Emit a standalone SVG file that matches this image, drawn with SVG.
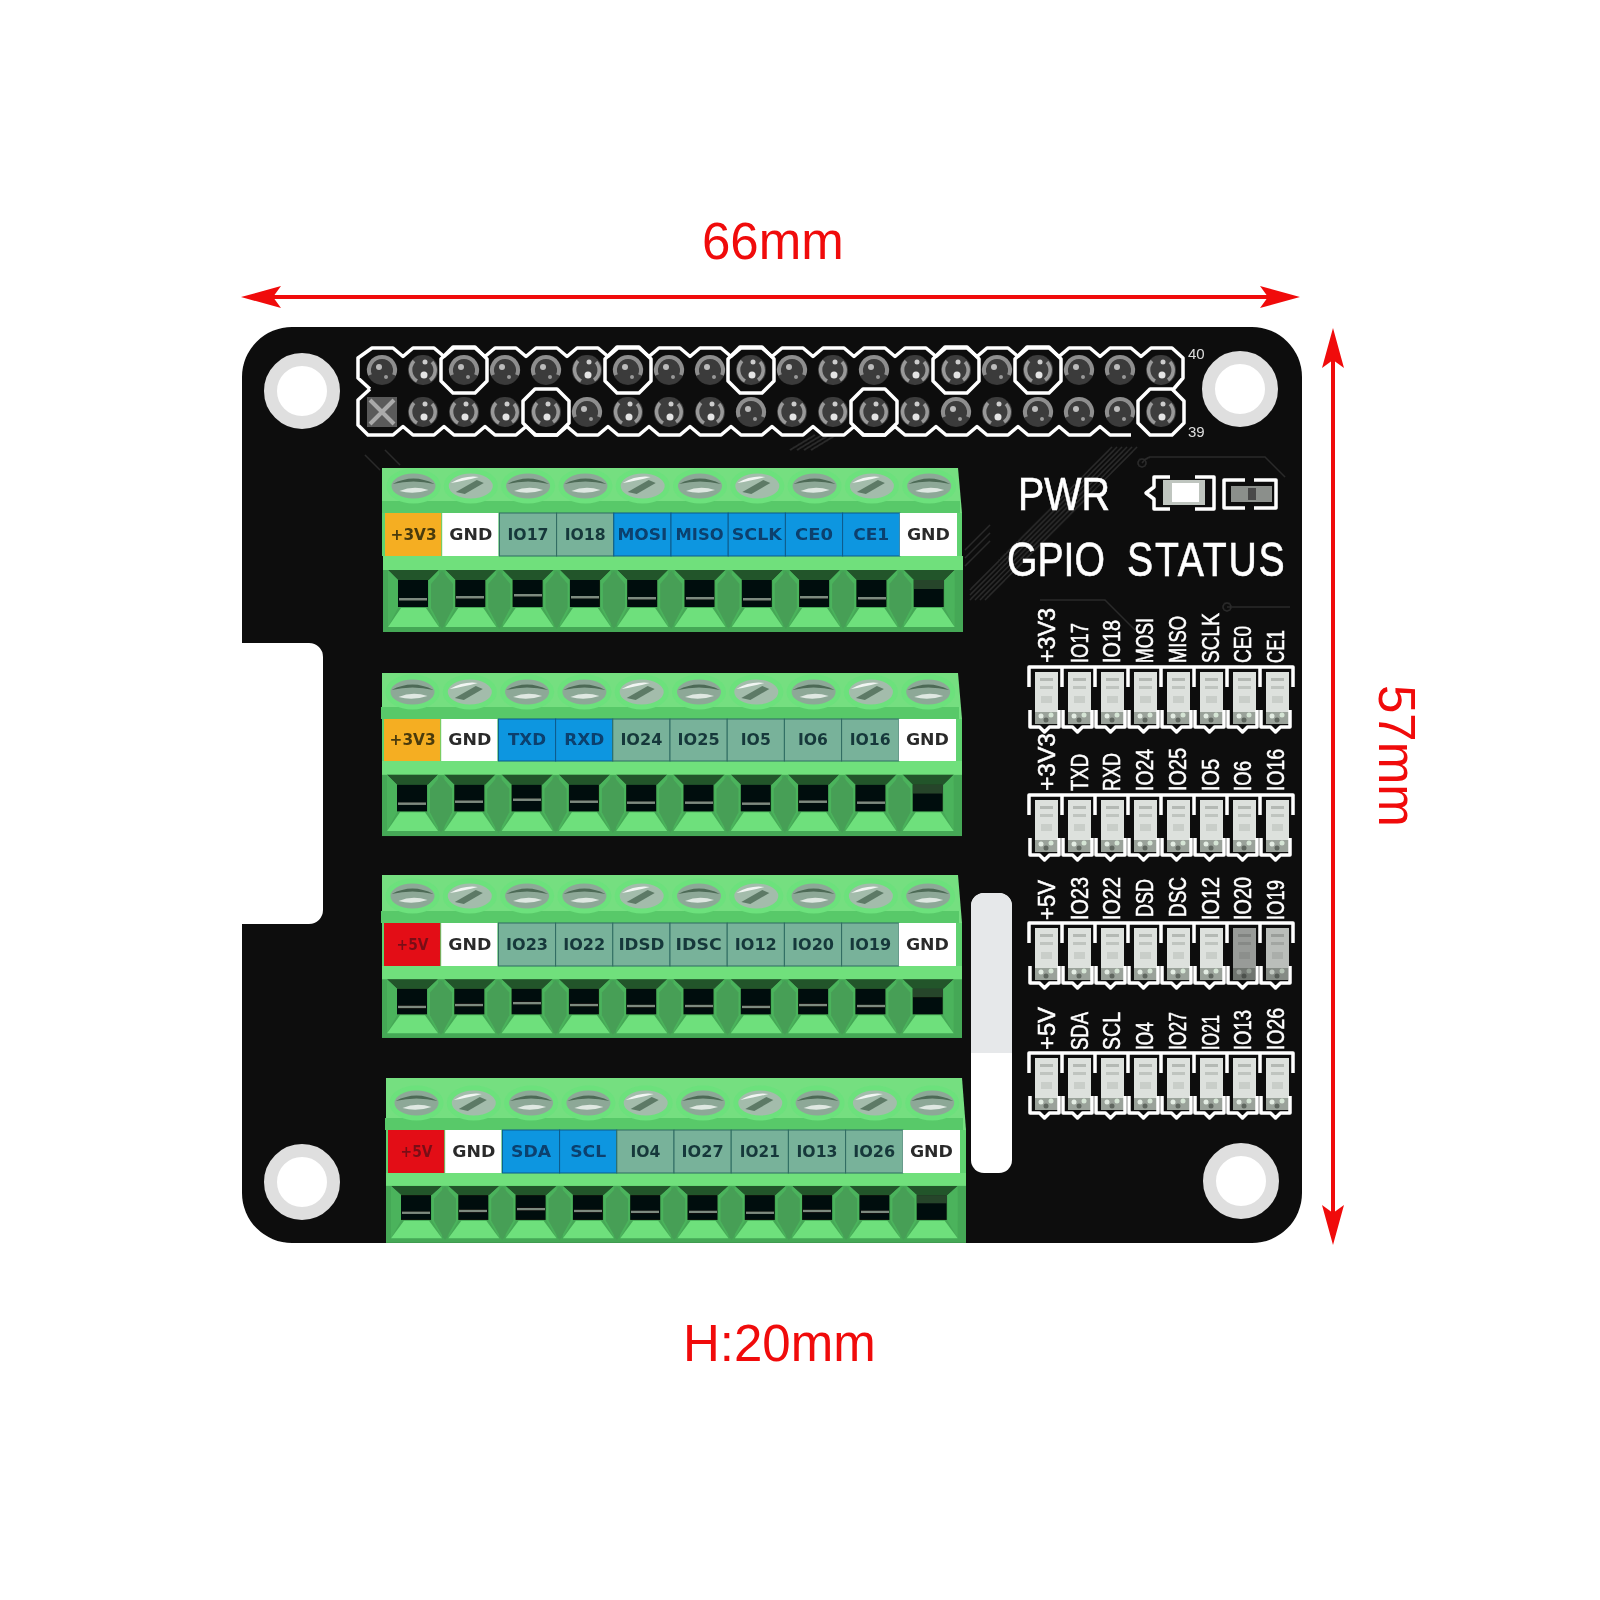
<svg xmlns="http://www.w3.org/2000/svg" xmlns:xlink="http://www.w3.org/1999/xlink" width="1600" height="1600" viewBox="0 0 1600 1600">
<style>
.dim{font-family:"Liberation Sans",Arial,sans-serif;fill:#f00b0b}
.silk{fill:none;stroke:#fff;stroke-width:3.5;stroke-linejoin:round}
.trace{fill:none;stroke:#2b2b2b;stroke-width:1.5}
.sm{font-family:"Liberation Sans",Arial,sans-serif;fill:#fff;stroke:#fff;stroke-width:.5;font-size:23px}
.hd{font-family:"Liberation Sans",Arial,sans-serif;fill:#fff;stroke:#fff;stroke-width:.6}
.num{font-family:"Liberation Sans",Arial,sans-serif;fill:#ddd;font-size:15px}
.l{font-family:"DejaVu Sans",sans-serif;font-weight:700;font-size:15px;text-anchor:middle}
.o{fill:#f5ae22}.w{fill:#fff}.t{fill:#78b29a;stroke:#2f6b62;stroke-width:1}.b{fill:#0b96e0;stroke:#0b5a8a;stroke-width:1}.r{fill:#e30b17}
.to{fill:#4a3a0c}.tw{fill:#2b2b2b}.tt{fill:#17393a}.tb{fill:#07406e}.tr{fill:#7a0a16}
.hole{fill:#fff;stroke:#dfdfdf;stroke-width:13}
.edge{fill:#5fd26f}
</style>
<defs>
<filter id="soft" x="-2%" y="-2%" width="104%" height="104%"><feGaussianBlur stdDeviation="0.7"/></filter>
<marker id="head" markerUnits="userSpaceOnUse" markerWidth="40" markerHeight="22" viewBox="0 0 40 22" refX="15" refY="11" orient="auto-start-reverse"><path d="M40 11 L0 0 L8 11 L0 22Z" fill="#f00b0b"/></marker>
<g id="cell">
<polygon points="3,14 54,14 44,24 13,24" fill="#23552c"/>
<polygon points="3,14 13,24 13,52 3,71" fill="#4bb35c"/>
<polygon points="54,14 44,24 44,52 54,71" fill="#4bb35c"/>
<rect x="13" y="24" width="30" height="27" fill="#060a07"/>
<polygon points="16,52 41,52 54,71 3,71" fill="#6ee07b"/>
</g>
<polygon id="dia" points="0,15 11,28 11,52 0,73 -11,52 -11,28" fill="#469f56"/>
<g id="lower">
<rect x="-2" y="0" width="580" height="76" fill="#45a856"/>
<rect x="-2" y="0" width="580" height="14" fill="#6fe07b"/>
<use href="#cell" x="0"/><use href="#cell" x="57.3"/><use href="#cell" x="114.6"/><use href="#cell" x="171.9"/><use href="#cell" x="229.2"/><use href="#cell" x="286.5"/><use href="#cell" x="343.8"/><use href="#cell" x="401.1"/><use href="#cell" x="458.4"/><use href="#cell" x="515.7"/>
<use href="#dia" x="57"/><use href="#dia" x="114.3"/><use href="#dia" x="171.6"/><use href="#dia" x="228.9"/><use href="#dia" x="286.2"/><use href="#dia" x="343.5"/><use href="#dia" x="400.8"/><use href="#dia" x="458.1"/><use href="#dia" x="515.4"/>
<g fill="#7d8a7f"><rect x="14" y="42" width="28" height="2.5"/><rect x="71" y="40" width="28" height="2.5"/><rect x="129" y="38" width="28" height="2.5"/><rect x="186" y="40" width="28" height="2.5"/><rect x="243" y="41" width="28" height="2.5"/><rect x="301" y="41" width="28" height="2.5"/><rect x="358" y="42" width="28" height="2.5"/><rect x="415" y="40" width="28" height="2.5"/><rect x="473" y="41" width="28" height="2.5"/></g>
<rect x="529" y="24" width="30" height="9" fill="#27452c"/>
</g>
<g id="s1"><ellipse rx="24.5" ry="15" fill="#8da897" stroke="#6ce17c" stroke-width="5"/><path d="M-21 -2 Q0 -13 21 -2 Q0 -7 -21 -2Z" fill="#4d6a56"/><path d="M-14 5 Q0 -1 15 4 Q0 9 -14 5Z" fill="#dfe8e2"/></g>
<g id="s2"><ellipse rx="24.5" ry="15" fill="#a3bcab" stroke="#6ce17c" stroke-width="5"/><path d="M-15 6 L6 -6 L13 -3 L-6 8Z" fill="#5d7a66"/><path d="M-20 -3 Q-6 -11 8 -9 Q-8 -5 -20 -3Z" fill="#f1f5f2"/></g>
<g id="screws">
<rect x="-3" y="-12" width="578" height="12" fill="#58c969"/>
<use href="#s1" x="28.5" y="-27"/><use href="#s2" x="85.8" y="-27"/><use href="#s1" x="143.1" y="-27"/><use href="#s1" x="200.4" y="-27"/><use href="#s2" x="257.7" y="-27"/><use href="#s1" x="315" y="-27"/><use href="#s2" x="372.3" y="-27"/><use href="#s1" x="429.6" y="-27"/><use href="#s2" x="486.9" y="-27"/><use href="#s1" x="544.2" y="-27"/>
</g>
<g id="p1"><circle r="15" fill="#3a3a3a"/><path d="M-12 5 A13 13 0 1 1 12 5" fill="none" stroke="#8e8e8e" stroke-width="4"/><circle cx="-3" cy="-3" r="3" fill="#bbb"/><circle cx="4" cy="7" r="2" fill="#999"/></g>
<g id="p2"><circle r="15" fill="#3e3e3e"/><path d="M-9 -9 A13 13 0 0 0 -6 11 M9 -8 A12 12 0 0 1 7 10" fill="none" stroke="#999" stroke-width="3.5"/><circle cx="1" cy="5" r="3.5" fill="#e4e4e4"/><circle cx="2" cy="-8" r="2.5" fill="#ccc"/></g>
<path id="oct" d="M-23 -11 L-11 -23 H11 L23 -11 V11 L11 23 H-11 L-23 11Z" class="silk"/>
<g id="led"><rect width="23" height="52" fill="#dde1dd"/><rect x="5" y="6" width="13" height="3" fill="#b4b9b4"/><rect x="5" y="14" width="13" height="3" fill="#bfc4bf"/><rect x="6" y="24" width="11" height="7" fill="#c9cec9"/><rect y="40" width="23" height="12" fill="#9aa29a"/><circle cx="6" cy="44" r="2.5" fill="#e3ece3"/><circle cx="16" cy="43" r="2.5" fill="#d5e5d5"/><circle cx="11" cy="48" r="2.5" fill="#5f665f"/></g>
<g id="ledrow">
<use href="#led" x="7" y="5"/><use href="#led" x="40" y="5"/><use href="#led" x="73" y="5"/><use href="#led" x="106" y="5"/><use href="#led" x="139" y="5"/><use href="#led" x="172" y="5"/><use href="#led" x="205" y="5"/><use href="#led" x="238" y="5"/>
<path class="silk" d="M1 20 V0 H265 V20 M34 0 V20 M67 0 V20 M100 0 V20 M133 0 V20 M166 0 V20 M199 0 V20 M232 0 V20"/>
<path class="silk" d="M2 43 v17h9.5l5 5l5-5h9.5v-17m4 0 v17h9.5l5 5l5-5h9.5v-17m4 0 v17h9.5l5 5l5-5h9.5v-17m4 0 v17h9.5l5 5l5-5h9.5v-17m4 0 v17h9.5l5 5l5-5h9.5v-17m4 0 v17h9.5l5 5l5-5h9.5v-17m4 0 v17h9.5l5 5l5-5h9.5v-17m4 0 v17h9.5l5 5l5-5h9.5v-17"/>
</g>
</defs>
<rect width="1600" height="1600" fill="#fff"/>
<text class="dim" x="702" y="259" font-size="51">66mm</text>
<text class="dim" x="683" y="1361" font-size="51">H:20mm</text>
<text class="dim" font-size="51" transform="translate(1379 685) rotate(90)">57mm</text>
<g id="board" filter="url(#soft)">
<path id="pcb" fill="#111" d="M292 327 H1252 A50 50 0 0 1 1302 377 V1193 A50 50 0 0 1 1252 1243 H292 A50 50 0 0 1 242 1193 V924 H309 A14 14 0 0 0 323 910 V657 A14 14 0 0 0 309 643 H242 V377 A50 50 0 0 1 292 327Z"/>
<g id="traces">
<path class="trace" d="M1127 447 L975 600 M1132 447 L980 600 M1137 447 L985 600 M1122 447 L970 600 M1117 447 L970 595 M1112 447 L970 590"/>
<path class="trace" d="M1142 463 Q1146 458 1150 457 H1265 L1285 477 M1040 600 H1105 L1135 630 M1227 607 H1290 M380 470 L365 455 M400 465 L385 450"/>
<path class="trace" d="M790 450 L815 435 M797 450 L822 435 M804 450 L829 435 M811 450 L836 435 M965 550 L990 525 M965 558 L990 533 M965 566 L990 541"/>
<circle cx="1142" cy="463" r="4" class="trace"/><circle cx="1227" cy="607" r="4" class="trace"/>
</g>
<g id="slot"><path fill="#fff" d="M971 906 A13 13 0 0 1 984 893 H999 A13 13 0 0 1 1012 906 V1160 A13 13 0 0 1 999 1173 H984 A13 13 0 0 1 971 1160Z"/><path fill="#e6e8ea" d="M971 906 A13 13 0 0 1 984 893 H999 A13 13 0 0 1 1012 906 V1053 H971Z"/></g>
<g id="holes"><circle class="hole" cx="302" cy="391" r="31.5"/><circle class="hole" cx="1240" cy="389" r="31.5"/><circle class="hole" cx="302" cy="1182" r="31.5"/><circle class="hole" cx="1241" cy="1181" r="31.5"/></g>
<g id="header">
<use href="#p1" x="382" y="370"/><use href="#p2" x="423" y="370"/><use href="#p1" x="464" y="370"/><use href="#p1" x="505" y="370"/><use href="#p1" x="546" y="370"/><use href="#p2" x="587" y="370"/><use href="#p1" x="628" y="370"/><use href="#p1" x="669" y="370"/><use href="#p1" x="710" y="370"/><use href="#p2" x="751" y="370"/><use href="#p1" x="792" y="370"/><use href="#p2" x="833" y="370"/><use href="#p1" x="874" y="370"/><use href="#p2" x="915" y="370"/><use href="#p2" x="956" y="370"/><use href="#p1" x="997" y="370"/><use href="#p2" x="1038" y="370"/><use href="#p1" x="1079" y="370"/><use href="#p1" x="1120" y="370"/><use href="#p2" x="1161" y="370"/>
<rect x="367" y="397" width="30" height="30" fill="#5a5a5a"/><path d="M370 400 L394 424 M394 400 L370 424" stroke="#aaa" stroke-width="4"/>
<use href="#p2" x="423" y="412"/><use href="#p2" x="464" y="412"/><use href="#p2" x="505" y="412"/><use href="#p2" x="546" y="412"/><use href="#p1" x="587" y="412"/><use href="#p2" x="628" y="412"/><use href="#p2" x="669" y="412"/><use href="#p2" x="710" y="412"/><use href="#p1" x="751" y="412"/><use href="#p2" x="792" y="412"/><use href="#p2" x="833" y="412"/><use href="#p2" x="874" y="412"/><use href="#p2" x="915" y="412"/><use href="#p1" x="956" y="412"/><use href="#p2" x="997" y="412"/><use href="#p1" x="1038" y="412"/><use href="#p1" x="1079" y="412"/><use href="#p1" x="1120" y="412"/><use href="#p2" x="1161" y="412"/>
<path class="silk" d="M370 389 L358 378 V358 L372 348 H393 l10 8.5 l10 -8.5 h21 l10 8.5 l10 -8.5 h21 l10 8.5 l10 -8.5 h21 l10 8.5 l10 -8.5 h21 l10 8.5 l10 -8.5 h21 l10 8.5 l10 -8.5 h21 l10 8.5 l10 -8.5 h21 l10 8.5 l10 -8.5 h21 l10 8.5 l10 -8.5 h21 l10 8.5 l10 -8.5 h21 l10 8.5 l10 -8.5 h21 l10 8.5 l10 -8.5 h21 l10 8.5 l10 -8.5 h21 l10 8.5 l10 -8.5 h21 l10 8.5 l10 -8.5 h21 l10 8.5 l10 -8.5 h21 l10 8.5 l10 -8.5 h21 l10 8.5 l10 -8.5 h21 l10 8.5 l10 -8.5 h21 L1183 358 V378 L1172 391"/>
<path class="silk" d="M370 389 L358 400 V425 L368 435 H393 l10 -8.5 l10 8.5 h21 l10 -8.5 l10 8.5 h21 l10 -8.5 l10 8.5 h21 l10 -8.5 l10 8.5 h21 l10 -8.5 l10 8.5 h21 l10 -8.5 l10 8.5 h21 l10 -8.5 l10 8.5 h21 l10 -8.5 l10 8.5 h21 l10 -8.5 l10 8.5 h21 l10 -8.5 l10 8.5 h21 l10 -8.5 l10 8.5 h21 l10 -8.5 l10 8.5 h21 l10 -8.5 l10 8.5 h21 l10 -8.5 l10 8.5 h21 l10 -8.5 l10 8.5 h21 l10 -8.5 l10 8.5 h21 l10 -8.5 l10 8.5 h21 l10 -8.5 l10 8.5 h21"/>
<use href="#oct" x="464" y="370"/><use href="#oct" x="628" y="370"/><use href="#oct" x="751" y="370"/><use href="#oct" x="956" y="370"/><use href="#oct" x="1038" y="370"/>
<use href="#oct" x="546" y="412"/><use href="#oct" x="874" y="412"/><use href="#oct" x="1161" y="412"/>
<text class="num" x="1188" y="359">40</text><text class="num" x="1188" y="437">39</text>
</g>
<g id="block1" transform="translate(385 513)">
<polygon points="-3,-45 573,-45 577,0 -3,0" fill="#74df80"/>
<rect class="edge" x="-3" y="0" width="580" height="43"/>
<use href="#screws"/><use href="#lower" y="43"/>
<rect class="o" x="0" width="56.2" height="43"/><rect class="w" x="57.2" width="56.2" height="43"/><rect class="t" x="114.4" width="57.2" height="43"/><rect class="t" x="171.6" width="57.2" height="43"/><rect class="b" x="228.8" width="57.2" height="43"/><rect class="b" x="286" width="57.2" height="43"/><rect class="b" x="343.2" width="57.2" height="43"/><rect class="b" x="400.4" width="57.2" height="43"/><rect class="b" x="457.6" width="57.2" height="43"/><rect class="w" x="514.8" width="57.2" height="43"/>
<text class="l to" x="28.6" y="27" textLength="46" lengthAdjust="spacingAndGlyphs">+3V3</text><text class="l tw" x="85.8" y="27" textLength="43" lengthAdjust="spacingAndGlyphs">GND</text><text class="l tt" x="143" y="27" textLength="41" lengthAdjust="spacingAndGlyphs">IO17</text><text class="l tt" x="200.2" y="27" textLength="41" lengthAdjust="spacingAndGlyphs">IO18</text><text class="l tb" x="257.4" y="27" textLength="50" lengthAdjust="spacingAndGlyphs">MOSI</text><text class="l tb" x="314.6" y="27" textLength="48" lengthAdjust="spacingAndGlyphs">MISO</text><text class="l tb" x="371.8" y="27" textLength="50" lengthAdjust="spacingAndGlyphs">SCLK</text><text class="l tb" x="429" y="27" textLength="38" lengthAdjust="spacingAndGlyphs">CE0</text><text class="l tb" x="486.2" y="27" textLength="36" lengthAdjust="spacingAndGlyphs">CE1</text><text class="l tw" x="543.4" y="27" textLength="43" lengthAdjust="spacingAndGlyphs">GND</text>
</g>
<g id="block2" transform="translate(384 719)">
<polygon points="-2,-46 574,-46 578,0 -2,0" fill="#74df80"/>
<rect class="edge" x="-2" y="0" width="580" height="42"/>
<use href="#screws"/><g transform="translate(0 42) scale(1 .987)"><use href="#lower"/></g>
<rect class="o" x="0" width="56.2" height="42"/><rect class="w" x="57.2" width="56.2" height="42"/><rect class="b" x="114.4" width="57.2" height="42"/><rect class="b" x="171.6" width="57.2" height="42"/><rect class="t" x="228.8" width="57.2" height="42"/><rect class="t" x="286" width="57.2" height="42"/><rect class="t" x="343.2" width="57.2" height="42"/><rect class="t" x="400.4" width="57.2" height="42"/><rect class="t" x="457.6" width="57.2" height="42"/><rect class="w" x="514.8" width="57.2" height="42"/>
<text class="l to" x="28.6" y="26" textLength="46" lengthAdjust="spacingAndGlyphs">+3V3</text><text class="l tw" x="85.8" y="26" textLength="43" lengthAdjust="spacingAndGlyphs">GND</text><text class="l tb" x="143" y="26" textLength="38" lengthAdjust="spacingAndGlyphs">TXD</text><text class="l tb" x="200.2" y="26" textLength="40" lengthAdjust="spacingAndGlyphs">RXD</text><text class="l tt" x="257.4" y="26" textLength="42" lengthAdjust="spacingAndGlyphs">IO24</text><text class="l tt" x="314.6" y="26" textLength="42" lengthAdjust="spacingAndGlyphs">IO25</text><text class="l tt" x="371.8" y="26" textLength="30" lengthAdjust="spacingAndGlyphs">IO5</text><text class="l tt" x="429" y="26" textLength="30" lengthAdjust="spacingAndGlyphs">IO6</text><text class="l tt" x="486.2" y="26" textLength="41" lengthAdjust="spacingAndGlyphs">IO16</text><text class="l tw" x="543.4" y="26" textLength="43" lengthAdjust="spacingAndGlyphs">GND</text>
</g>
<g id="block3" transform="translate(384 923)">
<polygon points="-2,-48 574,-48 578,0 -2,0" fill="#74df80"/>
<rect class="edge" x="-2" y="0" width="580" height="43"/>
<use href="#screws"/><g transform="translate(0 43) scale(1 .947)"><use href="#lower"/></g>
<rect class="r" x="0" width="56.2" height="43"/><rect class="w" x="57.2" width="56.2" height="43"/><rect class="t" x="114.4" width="57.2" height="43"/><rect class="t" x="171.6" width="57.2" height="43"/><rect class="t" x="228.8" width="57.2" height="43"/><rect class="t" x="286" width="57.2" height="43"/><rect class="t" x="343.2" width="57.2" height="43"/><rect class="t" x="400.4" width="57.2" height="43"/><rect class="t" x="457.6" width="57.2" height="43"/><rect class="w" x="514.8" width="57.2" height="43"/>
<text class="l tr" x="28.6" y="27" textLength="32" lengthAdjust="spacingAndGlyphs">+5V</text><text class="l tw" x="85.8" y="27" textLength="43" lengthAdjust="spacingAndGlyphs">GND</text><text class="l tt" x="143" y="27" textLength="42" lengthAdjust="spacingAndGlyphs">IO23</text><text class="l tt" x="200.2" y="27" textLength="42" lengthAdjust="spacingAndGlyphs">IO22</text><text class="l tt" x="257.4" y="27" textLength="46" lengthAdjust="spacingAndGlyphs">IDSD</text><text class="l tt" x="314.6" y="27" textLength="46" lengthAdjust="spacingAndGlyphs">IDSC</text><text class="l tt" x="371.8" y="27" textLength="42" lengthAdjust="spacingAndGlyphs">IO12</text><text class="l tt" x="429" y="27" textLength="42" lengthAdjust="spacingAndGlyphs">IO20</text><text class="l tt" x="486.2" y="27" textLength="42" lengthAdjust="spacingAndGlyphs">IO19</text><text class="l tw" x="543.4" y="27" textLength="43" lengthAdjust="spacingAndGlyphs">GND</text>
</g>
<g id="block4" transform="translate(388 1130)">
<polygon points="-2,-52 574,-52 578,0 -2,0" fill="#74df80"/>
<rect class="edge" x="-2" y="0" width="580" height="43"/>
<use href="#screws"/><g transform="translate(0 43) scale(1 .92)"><use href="#lower"/></g>
<rect class="r" x="0" width="56.2" height="43"/><rect class="w" x="57.2" width="56.2" height="43"/><rect class="b" x="114.4" width="57.2" height="43"/><rect class="b" x="171.6" width="57.2" height="43"/><rect class="t" x="228.8" width="57.2" height="43"/><rect class="t" x="286" width="57.2" height="43"/><rect class="t" x="343.2" width="57.2" height="43"/><rect class="t" x="400.4" width="57.2" height="43"/><rect class="t" x="457.6" width="57.2" height="43"/><rect class="w" x="514.8" width="57.2" height="43"/>
<text class="l tr" x="28.6" y="27" textLength="32" lengthAdjust="spacingAndGlyphs">+5V</text><text class="l tw" x="85.8" y="27" textLength="43" lengthAdjust="spacingAndGlyphs">GND</text><text class="l tb" x="143" y="27" textLength="40" lengthAdjust="spacingAndGlyphs">SDA</text><text class="l tb" x="200.2" y="27" textLength="36" lengthAdjust="spacingAndGlyphs">SCL</text><text class="l tt" x="257.4" y="27" textLength="30" lengthAdjust="spacingAndGlyphs">IO4</text><text class="l tt" x="314.6" y="27" textLength="42" lengthAdjust="spacingAndGlyphs">IO27</text><text class="l tt" x="371.8" y="27" textLength="40" lengthAdjust="spacingAndGlyphs">IO21</text><text class="l tt" x="429" y="27" textLength="41" lengthAdjust="spacingAndGlyphs">IO13</text><text class="l tt" x="486.2" y="27" textLength="42" lengthAdjust="spacingAndGlyphs">IO26</text><text class="l tw" x="543.4" y="27" textLength="43" lengthAdjust="spacingAndGlyphs">GND</text>
</g>
<g id="pwr">
<text class="hd" x="1018" y="510" font-size="46" textLength="92" lengthAdjust="spacingAndGlyphs">PWR</text>
<path class="silk" d="M1170 477H1154V487L1146 493L1154 499V509H1170 M1195 477H1214V509H1195"/>
<rect x="1163" y="480" width="42" height="25" fill="#bfc5bf"/><rect x="1172" y="483" width="27" height="19" fill="#fff"/>
<path class="silk" d="M1245 480H1224V508H1245M1254 480H1276V508H1254"/>
<rect x="1231" y="486" width="41" height="16" fill="#8b8f8b"/><rect x="1248" y="488" width="8" height="12" fill="#4a4a4a"/>
</g>
<text id="gpio-title" class="hd" transform="translate(1007 576) scale(.8 1)" font-size="49" word-spacing="14">GPIO <tspan letter-spacing="2.2">STATUS</tspan></text>
<g id="leds1" transform="translate(1028 667)"><use href="#ledrow"/>
<text class="sm" transform="translate(27 -4) rotate(-90)" textLength="55" lengthAdjust="spacingAndGlyphs">+3V3</text><text class="sm" transform="translate(59.7 -4) rotate(-90)" textLength="40" lengthAdjust="spacingAndGlyphs">IO17</text><text class="sm" transform="translate(92.4 -4) rotate(-90)" textLength="43" lengthAdjust="spacingAndGlyphs">IO18</text><text class="sm" transform="translate(125.1 -4) rotate(-90)" textLength="45" lengthAdjust="spacingAndGlyphs">MOSI</text><text class="sm" transform="translate(157.8 -4) rotate(-90)" textLength="47" lengthAdjust="spacingAndGlyphs">MISO</text><text class="sm" transform="translate(190.5 -4) rotate(-90)" textLength="50" lengthAdjust="spacingAndGlyphs">SCLK</text><text class="sm" transform="translate(223.2 -4) rotate(-90)" textLength="37" lengthAdjust="spacingAndGlyphs">CE0</text><text class="sm" transform="translate(255.9 -4) rotate(-90)" textLength="33" lengthAdjust="spacingAndGlyphs">CE1</text></g>
<g id="leds2" transform="translate(1028 795)"><use href="#ledrow"/>
<text class="sm" transform="translate(27 -4) rotate(-90)" textLength="58" lengthAdjust="spacingAndGlyphs">+3V3</text><text class="sm" transform="translate(59.7 -4) rotate(-90)" textLength="37" lengthAdjust="spacingAndGlyphs">TXD</text><text class="sm" transform="translate(92.4 -4) rotate(-90)" textLength="38" lengthAdjust="spacingAndGlyphs">RXD</text><text class="sm" transform="translate(125.1 -4) rotate(-90)" textLength="42" lengthAdjust="spacingAndGlyphs">IO24</text><text class="sm" transform="translate(157.8 -4) rotate(-90)" textLength="43" lengthAdjust="spacingAndGlyphs">IO25</text><text class="sm" transform="translate(190.5 -4) rotate(-90)" textLength="32" lengthAdjust="spacingAndGlyphs">IO5</text><text class="sm" transform="translate(223.2 -4) rotate(-90)" textLength="30" lengthAdjust="spacingAndGlyphs">IO6</text><text class="sm" transform="translate(255.9 -4) rotate(-90)" textLength="42" lengthAdjust="spacingAndGlyphs">IO16</text></g>
<g id="leds3" transform="translate(1028 923)"><use href="#ledrow"/>
<rect x="205" y="5" width="23" height="52" fill="#333" opacity=".4"/><rect x="238" y="5" width="23" height="52" fill="#333" opacity=".2"/>
<text class="sm" transform="translate(27 -3) rotate(-90)" textLength="40" lengthAdjust="spacingAndGlyphs">+5V</text><text class="sm" transform="translate(59.7 -3) rotate(-90)" textLength="43" lengthAdjust="spacingAndGlyphs">IO23</text><text class="sm" transform="translate(92.4 -3) rotate(-90)" textLength="43" lengthAdjust="spacingAndGlyphs">IO22</text><text class="sm" transform="translate(125.1 -6) rotate(-90)" textLength="38" lengthAdjust="spacingAndGlyphs">DSD</text><text class="sm" transform="translate(157.8 -6) rotate(-90)" textLength="40" lengthAdjust="spacingAndGlyphs">DSC</text><text class="sm" transform="translate(190.5 -3) rotate(-90)" textLength="43" lengthAdjust="spacingAndGlyphs">IO12</text><text class="sm" transform="translate(223.2 -3) rotate(-90)" textLength="43" lengthAdjust="spacingAndGlyphs">IO20</text><text class="sm" transform="translate(255.9 -3) rotate(-90)" textLength="40" lengthAdjust="spacingAndGlyphs">IO19</text></g>
<g id="leds4" transform="translate(1028 1053)"><use href="#ledrow"/>
<text class="sm" transform="translate(27 -3) rotate(-90)" textLength="43" lengthAdjust="spacingAndGlyphs">+5V</text><text class="sm" transform="translate(59.7 -3) rotate(-90)" textLength="38" lengthAdjust="spacingAndGlyphs">SDA</text><text class="sm" transform="translate(92.4 -3) rotate(-90)" textLength="38" lengthAdjust="spacingAndGlyphs">SCL</text><text class="sm" transform="translate(125.1 -3) rotate(-90)" textLength="28" lengthAdjust="spacingAndGlyphs">IO4</text><text class="sm" transform="translate(157.8 -3) rotate(-90)" textLength="38" lengthAdjust="spacingAndGlyphs">IO27</text><text class="sm" transform="translate(190.5 -3) rotate(-90)" textLength="35" lengthAdjust="spacingAndGlyphs">IO21</text><text class="sm" transform="translate(223.2 -3) rotate(-90)" textLength="40" lengthAdjust="spacingAndGlyphs">IO13</text><text class="sm" transform="translate(255.9 -3) rotate(-90)" textLength="42" lengthAdjust="spacingAndGlyphs">IO26</text></g>
</g>
<g id="connectors" stroke="#f00b0b" stroke-width="4" fill="none">
<line x1="266" y1="297" x2="1275" y2="297" marker-start="url(#head)" marker-end="url(#head)"/>
<line x1="1333" y1="353" x2="1333" y2="1220" marker-start="url(#head)" marker-end="url(#head)"/>
</g>
</svg>
